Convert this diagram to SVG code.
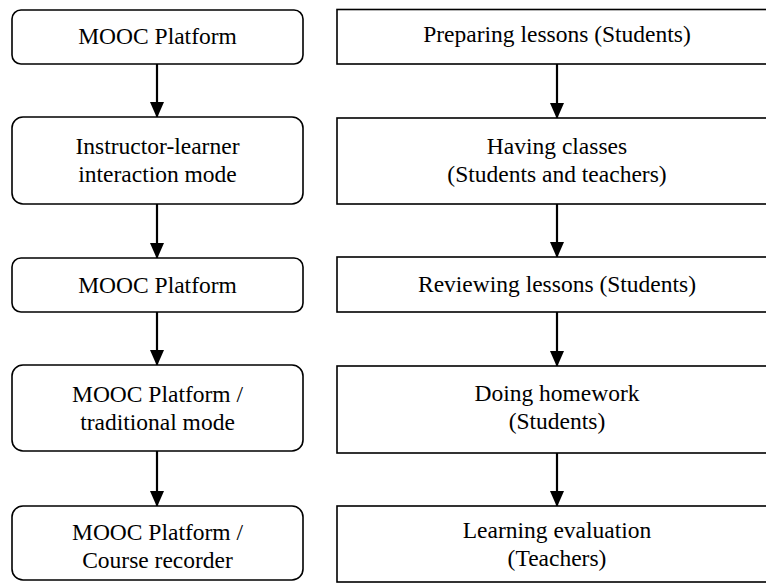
<svg xmlns="http://www.w3.org/2000/svg" width="766" height="585" viewBox="0 0 766 585">
<style>
.box{fill:#fff;stroke:#000;stroke-width:1.6}
.t{font-family:"Liberation Serif","Times New Roman",serif;font-size:23.5px;fill:#000;text-anchor:middle}
.c{stroke:#000;stroke-width:2.2;fill:none}
</style>
<defs>
<marker id="ah" markerUnits="userSpaceOnUse" markerWidth="16" markerHeight="18" refX="15" refY="7" orient="auto">
<path d="M0,0 L16,7 L0,14 Z" fill="#000"/>
</marker>
</defs>
<rect width="766" height="585" fill="#fff"/>
<g id="connectors">
<line class="c" x1="157" y1="64" x2="157" y2="117" marker-end="url(#ah)"/>
<line class="c" x1="157" y1="204" x2="157" y2="258" marker-end="url(#ah)"/>
<line class="c" x1="157" y1="312" x2="157" y2="365" marker-end="url(#ah)"/>
<line class="c" x1="157" y1="451" x2="157" y2="506" marker-end="url(#ah)"/>
<line class="c" x1="557" y1="64" x2="557" y2="118" marker-end="url(#ah)"/>
<line class="c" x1="557" y1="204" x2="557" y2="257" marker-end="url(#ah)"/>
<line class="c" x1="557" y1="312" x2="557" y2="366" marker-end="url(#ah)"/>
<line class="c" x1="557" y1="453" x2="557" y2="506" marker-end="url(#ah)"/>
</g>
<g id="l1"><rect class="box" x="12" y="10" width="291" height="54" rx="9"/><text class="t" x="157.5" y="44">MOOC Platform</text></g>
<g id="l2"><rect class="box" x="12" y="117" width="291" height="87" rx="11"/><text class="t" x="157.5" y="154">Instructor-learner</text><text class="t" x="157.5" y="182">interaction mode</text></g>
<g id="l3"><rect class="box" x="12" y="258" width="291" height="54" rx="9"/><text class="t" x="157.5" y="293">MOOC Platform</text></g>
<g id="l4"><rect class="box" x="12" y="365" width="291" height="86" rx="11"/><text class="t" x="157.5" y="402">MOOC Platform /</text><text class="t" x="157.5" y="430">traditional mode</text></g>
<g id="l5"><rect class="box" x="12" y="506" width="291" height="74" rx="11"/><text class="t" x="157.5" y="540">MOOC Platform /</text><text class="t" x="157.5" y="568">Course recorder</text></g>
<g id="r1"><rect class="box" x="337" y="9.5" width="440" height="54.5"/><text class="t" x="557" y="42">Preparing lessons (Students)</text></g>
<g id="r2"><rect class="box" x="337" y="118" width="440" height="86"/><text class="t" x="557" y="154">Having classes</text><text class="t" x="557" y="182">(Students and teachers)</text></g>
<g id="r3"><rect class="box" x="337" y="257" width="440" height="55"/><text class="t" x="557" y="292">Reviewing lessons (Students)</text></g>
<g id="r4"><rect class="box" x="337" y="366" width="440" height="87"/><text class="t" x="557" y="401">Doing homework</text><text class="t" x="557" y="429">(Students)</text></g>
<g id="r5"><rect class="box" x="337" y="506" width="440" height="76"/><text class="t" x="557" y="538">Learning evaluation</text><text class="t" x="557" y="566">(Teachers)</text></g>
</svg>
